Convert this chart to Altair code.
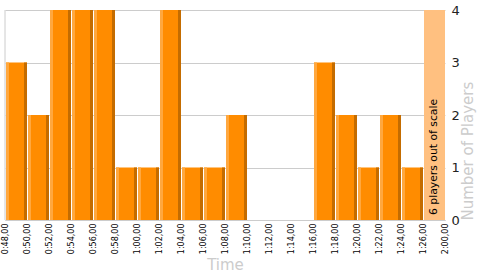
import altair as alt
import pandas as pd

# Bin edge labels (2-second bins) and the final out-of-scale edge
edge_labels = ["0:48,00", "0:50,00", "0:52,00", "0:54,00", "0:56,00", "0:58,00",
               "1:00,00", "1:02,00", "1:04,00", "1:06,00", "1:08,00", "1:10,00",
               "1:12,00", "1:14,00", "1:16,00", "1:18,00", "1:20,00", "1:22,00",
               "1:24,00", "1:26,00", "2:00,00"]
# Players per bin
counts = [3, 2, 4, 4, 4, 1, 1, 4, 1, 1, 2, 0, 0, 0, 3, 2, 1, 2, 1]
# Out-of-scale bin
out_of_scale_count = 6
out_of_scale_text = "6 players out of scale"

df = pd.DataFrame({
    "start": list(range(len(counts))),
    "end": [i + 1 for i in range(len(counts))],
    "count": counts,
    "zero": [0] * len(counts),
})
oos = pd.DataFrame({
    "start": [len(counts)],
    "end": [len(counts) + 1],
    "count": [out_of_scale_count],
    "zero": [0],
    "mid": [len(counts) + 0.5],
    "label": [out_of_scale_text],
})

label_expr = "[" + ",".join('"%s"' % s for s in edge_labels) + "][datum.value]"

xscale = alt.Scale(domain=[0, len(edge_labels) - 1], nice=False, zero=False)
yscale = alt.Scale(domain=[0, 4], nice=False, clamp=True)

x_axis = alt.Axis(values=list(range(len(edge_labels))), labelExpr=label_expr,
                  labelAngle=270, labelFontSize=8, labelColor="#000",
                  labelFont="DejaVu Sans", ticks=False, grid=False,
                  domainColor="#cccccc", labelPadding=3, labelOverlap=False,
                  labelFlush=False, labelBound=False, title="Time", titleFontSize=15,
                  titleColor="#cccccc", titleFontWeight="normal",
                  titleFont="DejaVu Sans", titlePadding=4)
y_axis = alt.Axis(orient="right", values=[0, 1, 2, 3, 4], format="d", grid=True,
                  gridColor="#cccccc", ticks=False, domain=False,
                  labelFontSize=13, labelColor="#222", labelFont="DejaVu Sans",
                  labelPadding=6, title="Number of Players", titleFontSize=15,
                  titleColor="#cccccc", titleFontWeight="normal",
                  titleFont="DejaVu Sans", titleAngle=270, titleAnchor="start",
                  titlePadding=16)


def X(field):
    return alt.X(field, type="quantitative", scale=xscale, axis=x_axis)


def Y(field):
    return alt.Y(field, type="quantitative", scale=yscale, axis=y_axis)


base = alt.Chart(df)

main = base.mark_bar(color="#FF8C00", xOffset=1).encode(
    x=X("start"), x2="end", y=Y("count"), y2="zero",
)
light = base.mark_bar(color="#FFA83F", xOffset=1, x2Offset=4).encode(
    x=X("start"), x2="start", y=Y("count"), y2="zero",
)
dark = base.mark_bar(color="#C46C00", xOffset=-3).encode(
    x=X("end"), x2="end", y=Y("count"), y2="zero",
)

oos_bar = alt.Chart(oos).mark_bar(color="#FFC080", xOffset=1).encode(
    x=X("start"), x2="end", y=Y("count"), y2="zero",
)
oos_text = alt.Chart(oos).mark_text(angle=270, align="left", baseline="middle",
                                    fontSize=10.8, font="DejaVu Sans",
                                    color="#000", dx=5).encode(
    x=X("mid"), y=Y("zero"), text="label:N",
)

border = alt.Chart(oos).mark_rule(color="#cccccc").encode(
    x=alt.value(0), y=alt.value(0), y2=alt.value(210),
)

chart = alt.layer(main, light, dark, oos_bar, oos_text, border).properties(
    width=440, height=210,
    autosize=alt.AutoSizeParams(type="none"),
    padding={"left": 5, "top": 10, "right": 55, "bottom": 55},
).configure_view(stroke=None)

chart.save("out.html", embed_options={"renderer": "svg", "actions": False})
